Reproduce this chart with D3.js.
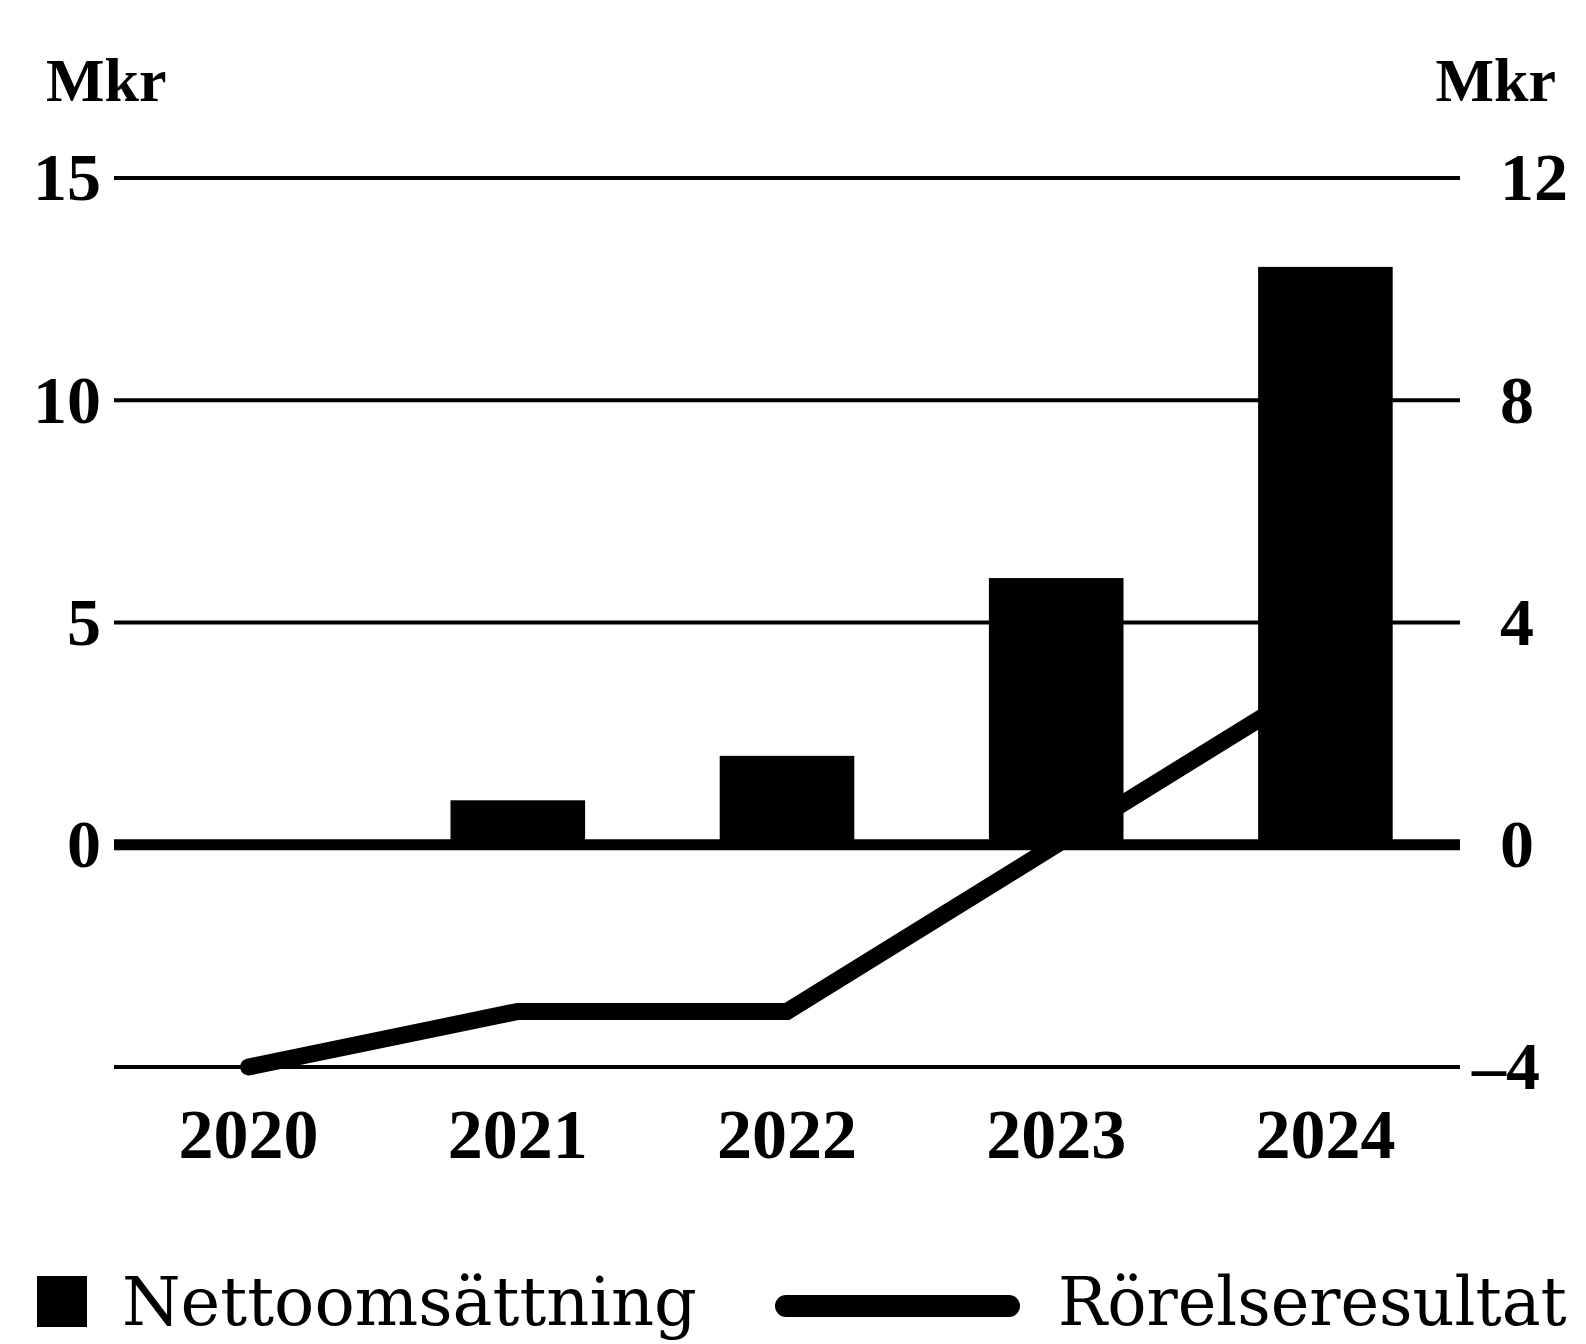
<!DOCTYPE html>
<html>
<head>
<meta charset="utf-8">
<script src="https://cdn.jsdelivr.net/npm/d3@7"></script>
<style>
  html, body { margin: 0; padding: 0; background: #fff; }
  svg { display: block; }
  text { fill: #000; }
  .num { font-family: "Liberation Serif", "DejaVu Serif", serif; font-weight: bold; }
  .leg { font-family: "DejaVu Serif", "Liberation Serif", serif; }
</style>
</head>
<body>
<svg id="chart" width="1586" height="1344"></svg>
<script>
// Years shown on the x axis
const years = ["2020", "2021", "2022", "2023", "2024"];
// Net sales, Mkr (left axis, bars)
const nettoomsattning = [0, 1, 2, 6, 13];
// Operating result, Mkr (right axis, line)
const rorelseresultat = [-4, -3, -3, 0, 3];
// Axis ticks
const leftTicks = [0, 5, 10, 15];
const leftGrid = [-5, 0, 5, 10, 15];
const rightTicks = [-4, 0, 4, 8, 12];

const svg = d3.select("#chart");
const plotLeft = 114, plotRight = 1460, plotTop = 178, plotBottom = 1067;

const x = d3.scaleBand().domain(years).range([plotLeft, plotRight]).paddingInner(0.5).paddingOuter(0.25);
const yL = d3.scaleLinear().domain([-5, 15]).range([plotBottom, plotTop]);
const yR = d3.scaleLinear().domain([-4, 12]).range([plotBottom, plotTop]);

// Horizontal gridlines; the zero line is heavier
svg.append("g").selectAll("line").data(leftGrid).join("line")
  .attr("x1", plotLeft).attr("x2", plotRight)
  .attr("y1", d => yL(d)).attr("y2", d => yL(d))
  .attr("stroke", "#000")
  .attr("stroke-width", d => d === 0 ? 11 : 4);

// Operating result line (drawn beneath the bars)
const line = d3.line()
  .x((d, i) => x(years[i]) + x.bandwidth() / 2)
  .y(d => yR(d));
svg.append("path")
  .datum(rorelseresultat)
  .attr("d", line)
  .attr("fill", "none")
  .attr("stroke", "#000")
  .attr("stroke-width", 17)
  .attr("stroke-linejoin", "miter")
  .attr("stroke-linecap", "round");

// Net sales bars
svg.append("g").selectAll("rect").data(nettoomsattning).join("rect")
  .attr("x", (d, i) => x(years[i]))
  .attr("width", x.bandwidth())
  .attr("y", d => yL(d))
  .attr("height", d => yL(0) - yL(d))
  .attr("fill", "#000");

// Left axis labels
svg.append("g").selectAll("text").data(leftTicks).join("text")
  .attr("class", "num")
  .attr("x", 101).attr("y", d => yL(d))
  .attr("dy", "0.33em")
  .attr("text-anchor", "end")
  .attr("font-size", 68)
  .text(d => d);

// Right axis labels
svg.append("g").selectAll("text").data(rightTicks).join("text")
  .attr("class", "num")
  .attr("x", d => d < 0 ? 1472 : 1500).attr("y", d => yR(d))
  .attr("dy", "0.33em")
  .attr("text-anchor", "start")
  .attr("font-size", 68)
  .text(d => d < 0 ? "\u2013" + Math.abs(d) : d);

// Unit labels
svg.append("text").attr("class", "num").attr("x", 46).attr("y", 101)
  .attr("font-size", 62).text("Mkr");
svg.append("text").attr("class", "num").attr("x", 1556).attr("y", 101)
  .attr("text-anchor", "end")
  .attr("font-size", 62).text("Mkr");

// Year labels
svg.append("g").selectAll("text").data(years).join("text")
  .attr("class", "num")
  .attr("x", d => x(d) + x.bandwidth() / 2).attr("y", 1158)
  .attr("text-anchor", "middle")
  .attr("font-size", 70)
  .text(d => d);

// Legend
const legend = svg.append("g");
legend.append("rect").attr("x", 37).attr("y", 1276).attr("width", 50).attr("height", 51).attr("fill", "#000");
legend.append("text").attr("class", "leg")
  .attr("transform", "translate(122,1325) scale(1.015,1.03)")
  .attr("font-size", 66).text("Nettoomsättning");
legend.append("line").attr("x1", 786).attr("x2", 1009).attr("y1", 1306).attr("y2", 1306)
  .attr("stroke", "#000").attr("stroke-width", 22).attr("stroke-linecap", "round");
legend.append("text").attr("class", "leg")
  .attr("transform", "translate(1058,1325) scale(1.07,1.1)")
  .attr("font-size", 61).text("Rörelseresultat");
</script>
</body>
</html>
